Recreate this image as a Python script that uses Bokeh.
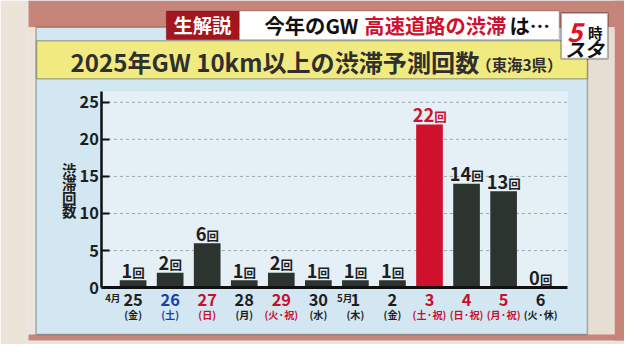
from bokeh.plotting import figure
from bokeh.models import Range1d, BoxAnnotation, Label, LabelSet, ColumnDataSource, FixedTicker
from bokeh.core.properties import value
from bokeh.embed import file_html
from bokeh.resources import INLINE

# ---------------- data ----------------
days = ["25", "26", "27", "28", "29", "30", "1", "2", "3", "4", "5", "6"]
weekdays = ["(金)", "(土)", "(日)", "(月)", "(火·祝)", "(水)", "(木)", "(金)",
            "(土·祝)", "(日·祝)", "(月·祝)", "(火·休)"]
day_kind = ["wd", "sat", "hol", "wd", "hol", "wd", "wd", "wd", "hol", "hol", "hol", "wd"]
counts = [1, 2, 6, 1, 2, 1, 1, 1, 22, 14, 13, 0]
months = ["4月", "5月"]
month_at = [0, 6]
y_ticks = [0, 5, 10, 15, 20, 25]

# ---------------- style ----------------
FONT = "Noto Sans CJK JP"
RED = "#d0112d"
DARK = "#2c3430"
TXT = "#1e1e1e"
BLUE = "#1b3fa6"
kind_color = {"wd": TXT, "sat": BLUE, "hol": "#c8102e"}

W, H = 624, 344
SX, SY = W / 640, H / 360          # canvas scale relative to the 640x360 reference
S = (SX + SY) / 2
LB, BB = 28, 4                     # left / bottom border widths (canvas px)
PITCH, PX = 38.0, 7.76             # reference px per bar slot, per count unit


def fs(n):
    return f"{n * S:.1f}px"


def X(rx):  # reference pixel -> data x
    return (rx - 136) / PITCH


def Y(ry):  # reference pixel -> data y
    return (300.5 - ry) / PX


AX_L, AX_R, AX_T = X(104), X(582), Y(95)

p = figure(width=W, height=H, x_range=Range1d(X(LB / SX), X(640)),
           y_range=Range1d(Y((H - BB) / SY), Y(0)),
           output_backend="svg", toolbar_location=None,
           min_border_left=LB, min_border_right=0, min_border_top=0, min_border_bottom=BB,
           background_fill_color="#d2e7f2", border_fill_color="#ece3d9", outline_line_color=None)
p.grid.visible = False

# axes (placed inside the frame)
ya = p.yaxis[0]
ya.fixed_location = AX_L
ya.bounds = (0, AX_T)
ya.ticker = FixedTicker(ticks=y_ticks)
ya.major_label_text_font = FONT
ya.major_label_text_font_size = fs(17)
ya.major_label_text_font_style = "bold"
ya.major_label_text_color = TXT
ya.axis_line_width = 2.5
ya.axis_line_color = "#111111"
ya.major_tick_in = 8
ya.major_tick_out = 0
ya.major_tick_line_width = 2
ya.major_tick_line_color = "#111111"
ya.minor_tick_in = 0
ya.minor_tick_out = 0
ya.major_label_standoff = 3

xa = p.xaxis[0]
xa.fixed_location = 0
xa.bounds = (AX_L, AX_R)
xa.ticker = FixedTicker(ticks=[])
xa.axis_line_width = 3
xa.axis_line_color = "#111111"
xa.major_tick_in = 0
xa.major_tick_out = 0
xa.minor_tick_in = 0
xa.minor_tick_out = 0
xa.major_label_standoff = 0
xa.major_label_text_font_size = "0px"


# ---------------- decorations ----------------
def box(x0, y0, x1, y1, **kw):
    kw.setdefault("line_color", None)
    kw.setdefault("fill_alpha", 1.0)
    p.add_layout(BoxAnnotation(left=X(x0), right=X(x1), top=Y(y0), bottom=Y(y1),
                               level="underlay", **kw))


MOSAIC = dict(fill_color="#c78579")
box(0, 0, 640, 28, **MOSAIC)
box(0, 28, 36, 349, fill_color="#ece3d9")
box(602, 28, 640, 352, fill_color="#e7ded3")
box(630, 0, 640, 360, **MOSAIC)
box(0, 349.5, 640, 360, **MOSAIC)
box(104, 95, 582, 300.5, fill_color="#e4eff6")
box(36.5, 28, 602, 349.5, fill_color=None, line_color="#1a1a1a", line_width=1.5)
box(37, 42, 602, 82, fill_color="#f0ea80", line_color="#222222", line_width=1.5)

# header
box(170, 11, 245, 41, fill_color="#a3161d", line_color="#7a1016", line_width=1)
box(245, 11, 573, 41, fill_color="#ffffff", line_color="#333333", line_width=1)
box(575, 13, 623, 61, fill_color="#ffffff", line_color="#111111", line_width=2)

# grid lines
p.segment(x0=AX_L, x1=AX_R, y0=y_ticks[1:], y1=y_ticks[1:], line_color="#9aa6ae",
          line_dash="3 3", line_width=1)


def txt(t, rx, ry, size, color=TXT, align="center", baseline="middle", style="bold"):
    p.add_layout(Label(x=X(rx), y=Y(ry), text=t, text_font=FONT, text_font_size=fs(size),
                       text_font_style=style, text_color=color, text_align=align,
                       text_baseline=baseline))


txt("生解説", 207, 26, 20, "#ffffff")
txt("高速道路の渋滞", 446, 26, 21, RED)
txt("今年のGW", 367, 26, 21, "#111111", align="right")
txt("は…", 522, 26, 21, "#111111", align="left")
txt("5", 589, 33, 27, "#e3101f", style="bold italic")
txt("時", 610, 33, 15, "#111111")
txt("スタ", 599, 51, 20, "#111111", style="bold italic")

txt("2025年GW 10km以上の渋滞予測回数", 491, 64, 25, "#2f2f2f", align="right")
txt("（東海3県）", 488, 66, 16, "#2f2f2f", align="left")

for i, ch in enumerate("渋滞回数"):
    txt(ch, 70.5, 177 + i * 14.4, 15)

# ---------------- bars & labels ----------------
idx = list(range(len(days)))
peak = max(counts)
src = ColumnDataSource(dict(
    x=idx,
    count=counts,
    label_y=[c + 2.5 / PX for c in counts],
    num=[str(c) for c in counts],
    unit=["回"] * len(counts),
    color=[RED if c == peak else DARK for c in counts],
    lcolor=[RED if c == peak else TXT for c in counts],
    split=[S * (0.6 * 19 * len(str(c)) - 13) / 2 for c in counts],
    day=days,
    wday=weekdays,
    dcolor=[kind_color[k] for k in day_kind],
))

p.vbar(x="x", top="count", width=0.72, fill_color="color", line_color=None, source=src)

F = value(FONT)
p.add_layout(LabelSet(x="x", y="label_y", text="num", x_offset="split",
                      text_align="right", text_baseline="alphabetic", text_font=F,
                      text_font_size=fs(19), text_font_style="bold", text_color="lcolor", source=src))
p.add_layout(LabelSet(x="x", y="label_y", text="unit", x_offset="split",
                      text_align="left", text_baseline="alphabetic", text_font=F,
                      text_font_size=fs(13), text_font_style="bold", text_color="lcolor", source=src))

p.add_layout(LabelSet(x="x", y=Y(313), text="day", text_align="center", text_baseline="middle",
                      text_font=F, text_font_size=fs(17), text_font_style="bold",
                      text_color="dcolor", source=src))
p.add_layout(LabelSet(x="x", y=Y(329), text="wday", text_align="center", text_baseline="middle",
                      text_font=F, text_font_size=fs(10.5), text_font_style="bold",
                      text_color="dcolor", source=src))

msrc = ColumnDataSource(dict(x=month_at, text=months, off=[-13 * S, -3 * S]))
p.add_layout(LabelSet(x="x", y=Y(311), text="text", x_offset="off", text_align="right",
                      text_baseline="middle", text_font=F, text_font_size=fs(10),
                      text_font_style="bold", text_color=TXT, source=msrc))

open("out.html", "w").write(file_html(p, INLINE))
